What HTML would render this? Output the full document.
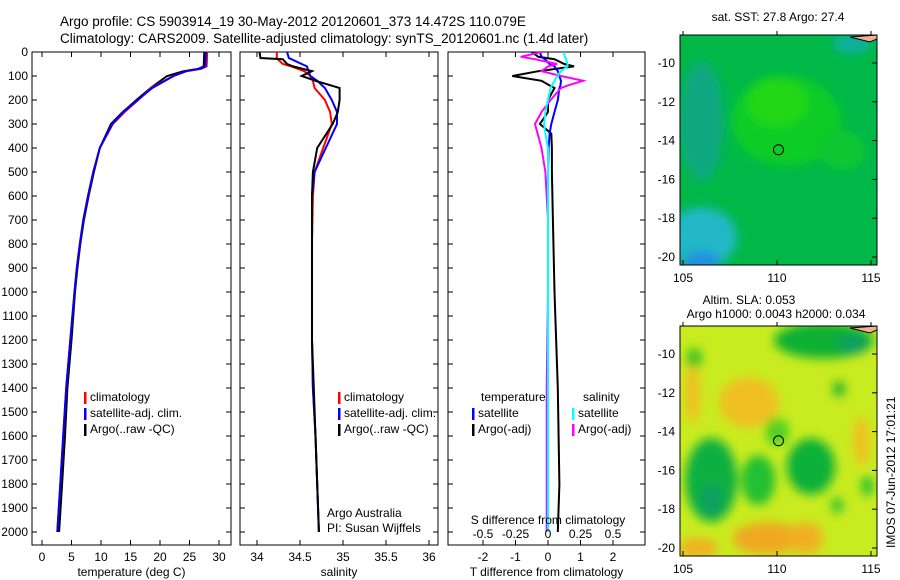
<!DOCTYPE html>
<html><head><meta charset="utf-8"><style>
body{margin:0;background:#fff;}
svg{display:block;font-family:"Liberation Sans",sans-serif;}
text{font-size:12px;fill:#000;}
</style></head><body>
<svg id="fig" width="900" height="580" viewBox="0 0 900 580">
<defs>
<filter id="blur6"><feGaussianBlur stdDeviation="5"/></filter>
<clipPath id="c1"><rect x="32" y="52" width="199" height="493"/></clipPath>
<clipPath id="c2"><rect x="240" y="52" width="198" height="493"/></clipPath>
<clipPath id="c3"><rect x="448" y="52" width="197" height="493"/></clipPath>
<clipPath id="cm1"><rect x="680" y="35" width="197" height="230"/></clipPath>
<clipPath id="cm2"><rect x="680" y="326" width="197" height="230"/></clipPath>
</defs>
<text x="60" y="26" style="font-size:13.5px">Argo profile: CS 5903914_19 30-May-2012 20120601_373 14.472S 110.079E</text>
<text x="60" y="43" style="font-size:13.5px">Climatology: CARS2009. Satellite-adjusted climatology: synTS_20120601.nc (1.4d later)</text>
<g id="maps"></g>
<g id="panels"></g>
<text transform="translate(895,548) rotate(-90)" style="font-size:12px">IMOS 07-Jun-2012 17:01:21</text>
</svg>
<script>
// ---- data ----
const depthT = [0,60,70,80,100,150,200,250,300,400,500,600,700,800,900,1000,1200,1400,1600,1800,2000];
const tempClim = [28.0,27.9,27.0,24.5,22.2,18.5,16.3,14.0,12.0,9.8,8.7,7.8,7.0,6.4,5.9,5.5,4.8,4.1,3.6,3.1,2.6];
const tempSat  = [27.8,27.7,26.8,24.4,22.3,18.7,16.2,13.8,11.9,9.8,8.7,7.8,7.0,6.4,5.9,5.5,4.8,4.1,3.6,3.1,2.6];
const depthA = [0,60,70,80,100,150,200,250,300,400,500,600,700,800,900,1000,1200,1400,1600,1800,2000];
const tempArgo = [27.5,27.4,26.5,24.0,21.2,18.4,16.0,13.7,11.7,9.8,8.8,7.9,7.1,6.5,6.0,5.6,5.0,4.3,3.9,3.4,2.9];
const depthS = [0,25,30,50,60,80,100,120,150,200,250,300,400,500,600,800,1000,1200,1400,1600,1800,2000];
const salClim = [34.23,34.23,34.24,34.30,34.40,34.55,34.62,34.65,34.67,34.79,34.85,34.87,34.77,34.67,34.65,34.64,34.64,34.64,34.65,34.68,34.70,34.72];
const salSat  = [34.35,34.37,34.40,34.52,34.58,34.60,34.62,34.70,34.79,34.87,34.93,34.93,34.80,34.67,34.64,34.64,34.64,34.64,34.65,34.68,34.70,34.72];
const salArgo = [34.03,34.04,34.30,34.35,34.42,34.64,34.52,34.68,34.96,34.96,34.94,34.88,34.70,34.65,34.64,34.64,34.64,34.64,34.66,34.68,34.70,34.72];
const depthD = [0,20,30,50,60,80,100,120,140,150,200,250,300,340,400,500,700,1000,1400,1800,2000];
const tDiffSat  = [-0.25,-0.2,-0.1,0.05,0.2,0.3,0.35,0.4,0.38,0.35,0.3,0.2,0.1,0.05,0.02,0,0,0,0,0,0];
const tDiffArgo = [-0.5,-0.3,0.2,0.5,0.8,-0.3,-1.1,-0.2,0.06,0.2,0.0,0.0,-0.25,0.1,0.12,0.12,0.15,0.2,0.3,0.35,0.3];
const sDiffSat  = [0.12,0.13,0.14,0.15,0.15,0.10,0.07,0.05,0.03,0.02,0.0,-0.02,-0.03,-0.02,0,0,0,0,0,0,0];
const sDiffArgo = [-0.05,-0.21,-0.1,0.07,0.0,-0.05,0.1,0.27,0.15,0.1,0.02,-0.05,-0.1,-0.08,-0.05,-0.02,0,0,-0.01,-0.01,-0.01];
const depthTicks = [0,100,200,300,400,500,600,700,800,900,1000,1100,1200,1300,1400,1500,1600,1700,1800,1900,2000];
const tempTicks = [0,5,10,15,20,25,30];
const salTicks = [34,34.5,35,35.5,36];
const tdTicks = [-2,-1,0,1,2];
const sdTicks = [-0.5,-0.25,0,0.25,0.5];
const sdTickLabels = ['-0.5','-0.25','0','0.25','0.5'];
const latTicks = [-10,-12,-14,-16,-18,-20];
const lonTicks = [105,110,115];

const NS='http://www.w3.org/2000/svg';
function mk(tag,attrs,parent,txt){const e=document.createElementNS(NS,tag);for(const k in attrs)e.setAttribute(k,attrs[k]);if(txt!==undefined)e.textContent=txt;parent.appendChild(e);return e;}
const P=document.getElementById('panels'), M=document.getElementById('maps');
const yD = d => 52 + d*0.24;
const xT = v => 42 + v*5.9;
const xS = v => 257 + (v-34)*86;
const xTD = v => 548 + v*32.5;
const xSD = v => 548 + v*130;

depthTicks.forEach(d=>{const t=mk('text',{x:28,y:yD(d)+4,'text-anchor':'end'},P,String(d));

});

function panel(x0,w,name,clip,ticks,xf,labels,xlabel){
  const g=mk('g',{},P);
  
  
  mk('rect',{x:x0,y:52,width:w,height:493,fill:'none',stroke:'#000','stroke-width':1},g);
  depthTicks.forEach(d=>{mk('line',{x1:x0,x2:x0+5,y1:yD(d),y2:yD(d),stroke:'#000'},g);mk('line',{x1:x0+w,x2:x0+w-5,y1:yD(d),y2:yD(d),stroke:'#000'},g);});
  ticks.forEach((v,i)=>{const x=xf(v);mk('line',{x1:x,x2:x,y1:52,y2:57,stroke:'#000'},g);mk('line',{x1:x,x2:x,y1:545,y2:540,stroke:'#000'},g);
    const t=mk('text',{x:x,y:561,'text-anchor':'middle'},g,labels?labels[i]:String(v));
    
    });
  const xl=mk('text',{x:x0+w/2,y:576,'text-anchor':'middle'},g,xlabel);
  
  
  return g;
}
function line(g,xs,ds,xf,color,clip,name){
  const pts=xs.map((v,i)=>xf(v).toFixed(1)+','+yD(ds[i]).toFixed(1)).join(' ');
  const l=mk('polyline',{points:pts,fill:'none',stroke:color,'stroke-width':2,'clip-path':'url(#'+clip+')'},g);
  
  
}
function legend(g,x,y,items){
  items.forEach((it,i)=>{mk('rect',{x:x,y:y+i*16-9,width:2.5,height:12,fill:it[0]},g);
    const t=mk('text',{x:x+6,y:y+i*16},g,it[1]);
    
    });
}
const g1=panel(32,199,'temperature-panel','c1',tempTicks,xT,null,'temperature (deg C)');
line(g1,tempArgo,depthA,xT,'#000','c1','temp-argo-line');
line(g1,tempClim,depthT,xT,'#f00','c1','temp-clim-line');
line(g1,tempSat,depthT,xT,'#00f','c1','temp-sat-line');
legend(g1,84,401,[['#f00','climatology'],['#00f','satellite-adj. clim.'],['#000','Argo(..raw -QC)']]);

const g2=panel(240,198,'salinity-panel','c2',salTicks,xS,null,'salinity');
line(g2,salClim,depthS,xS,'#f00','c2','sal-clim-line');
line(g2,salSat,depthS,xS,'#00f','c2','sal-sat-line');
line(g2,salArgo,depthS,xS,'#000','c2','sal-argo-line');
legend(g2,338,401,[['#f00','climatology'],['#00f','satellite-adj. clim.'],['#000','Argo(..raw -QC)']]);
[['Argo Australia',517],['PI: Susan Wijffels',532]].forEach(a=>{const t=mk('text',{x:327,y:a[1]},g2,a[0]);

});

const g3=panel(448,197,'difference-panel','c3',tdTicks,xTD,null,'T difference from climatology');
line(g3,tDiffArgo,depthD,xTD,'#000','c3','tdiff-argo-line');
line(g3,tDiffSat,depthD,xTD,'#00f','c3','tdiff-sat-line');
line(g3,sDiffArgo,depthD,xSD,'#f0f','c3','sdiff-argo-line');
line(g3,sDiffSat,depthD,xSD,'#0ff','c3','sdiff-sat-line');
let t=mk('text',{x:481,y:401},g3,'temperature');
t=mk('text',{x:583,y:401},g3,'salinity');
legend(g3,472,417,[['#00f','satellite'],['#000','Argo(-adj)']]);
legend(g3,572,417,[['#0ff','satellite'],['#f0f','Argo(-adj)']]);
t=mk('text',{x:548,y:524,'text-anchor':'middle'},g3,'S difference from climatology');
sdTicks.forEach((v,i)=>{const s=mk('text',{x:xSD(v),y:538,'text-anchor':'middle'},g3,sdTickLabels[i]);

});

// ---- maps ----
function map(y0,name,clip,base,blobs,titles,latY){
  const g=mk('g',{},M);
  
  
  const lon=v=>683+(v-105)*18.8, lat=v=>latY+(-10-v)*19.4;
  const cg=mk('g',{'clip-path':'url(#'+clip+')'},g);
  mk('rect',{x:680,y:y0,width:197,height:230,fill:base},cg);
  const bg=mk('g',{filter:'url(#blur6)'},cg);
  blobs.forEach(b=>mk('ellipse',{cx:lon(b[0]),cy:lat(b[1]),rx:b[2],ry:b[3],fill:b[4]},bg));
  mk('path',{d:'M850 '+(y0+2)+' l20 5 l7 -3 l0 -4 z',fill:'#f0b090',stroke:'#000'},cg);
  mk('circle',{cx:lon(110.079),cy:lat(-14.472),r:5,fill:'none',stroke:'#000'},g);
  mk('rect',{x:680,y:y0,width:197,height:230,fill:'none',stroke:'#000'},g);
  latTicks.forEach(v=>{mk('line',{x1:877,x2:872,y1:lat(v),y2:lat(v),stroke:'#000'},g);
    const s=mk('text',{x:675,y:lat(v)+4,'text-anchor':'end'},g,String(v));
    
    });
  lonTicks.forEach(v=>{mk('line',{x1:lon(v),x2:lon(v),y1:y0+230,y2:y0+225,stroke:'#000'},g);mk('line',{x1:lon(v),x2:lon(v),y1:y0,y2:y0-4,stroke:'#000'},g);
    const s=mk('text',{x:lon(v),y:y0+247,'text-anchor':'middle'},g,String(v));
    
    });
  titles.forEach((tt,i)=>{const s=mk('text',{x:tt[1],y:y0-22+i*14+(titles.length==1?8:0),'text-anchor':'middle'},g,tt[0]);
    
    });
}
map(35,'sst-map','cm1','#00b848',[[110.5,-13,55,45,'#10cc28'],[110,-12,30,25,'#20d818'],[113.5,-14.5,22,20,'#10c830'],[106,-13,22,60,'#10a880'],[106,-19,35,30,'#20b8c8'],[106,-20.3,18,12,'#2090e0'],[114,-9,20,10,'#10b0a0']],[['sat. SST: 27.8  Argo: 27.4',778]],63);
map(326,'sla-map','cm2','#c8ec20',[[108.5,-12.5,30,25,'#f0c020'],[105.5,-12,8,30,'#f0c020'],[109.5,-19.5,35,16,'#f0a820'],[111.5,-19.5,18,16,'#f0b020'],[105.8,-20,20,10,'#f0b020'],[114.5,-14.5,8,25,'#f0c020'],[106.5,-16.5,26,42,'#10b040'],[106.5,-17.5,12,16,'#10a060'],[109,-16.5,17,25,'#20c030'],[111.8,-15.8,24,28,'#10b038'],[112.5,-9.3,50,18,'#10b030'],[114,-9.5,15,10,'#10a060'],[110,-14,12,14,'#50d020'],[105.6,-10.2,8,10,'#40c020'],[113.3,-11.8,6,8,'#20b030'],[113.2,-17.8,6,8,'#30c030'],[114.8,-16.8,6,10,'#20c030']],[['Altim. SLA: 0.053',749],['Argo h1000: 0.0043 h2000: 0.034',776]],354);
</script>
</body></html>
